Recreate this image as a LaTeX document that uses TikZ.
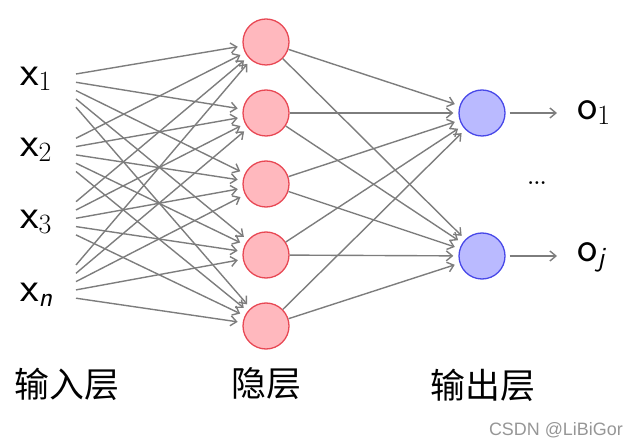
\documentclass[tikz,border=0pt]{standalone}
\usepackage{fontspec}
\newfontfamily\cjk{Noto Sans CJK SC}
\newfontfamily\wmfont{Liberation Sans}
\usetikzlibrary{arrows.meta}
\newcommand{\subup}[1]{\raisebox{-5bp}{\fontsize{28}{30}\selectfont\rmfamily #1}}
\newcommand{\subit}[1]{\raisebox{-5bp}{\fontsize{28}{30}\selectfont\sffamily\itshape #1}}
\definecolor{linegray}{RGB}{125,125,125}
\definecolor{hidfill}{RGB}{255,184,190}
\definecolor{hiddraw}{RGB}{232,72,84}
\definecolor{outfill}{RGB}{186,186,255}
\definecolor{outdraw}{RGB}{72,72,232}
\definecolor{wmgray}{RGB}{150,150,150}
\tikzset{
  conn/.style={draw=linegray, line width=1.4bp, -{Straight Barb[length=6bp,width=10bp]}},
  hidnode/.style={circle, minimum size=46bp, inner sep=0pt, fill=hidfill, draw=hiddraw, line width=1.3bp},
  outnode/.style={circle, minimum size=46bp, inner sep=0pt, fill=outfill, draw=outdraw, line width=1.3bp},
  varlabel/.style={anchor=base west, inner sep=0pt, font=\fontsize{43}{46}\selectfont\sffamily},
  layerlabel/.style={inner sep=0pt, font=\fontsize{35}{38}\selectfont\cjk},
}
\begin{document}
\begin{tikzpicture}[x=1bp, y=-1bp]
\useasboundingbox (0,0) rectangle (640,446);
% input labels
\node[varlabel] (x1) at (20,86) {x\subup{1}};
\node[varlabel] (x2) at (20,157) {x\subup{2}};
\node[varlabel] (x3) at (20,229) {x\subup{3}};
\node[varlabel] (xn) at (20,302) {x\subit{n}};
% hidden nodes
\foreach \j/\y in {1/42,2/113,3/184,4/255,5/326}
  \node[hidnode] (h\j) at (266,\y) {};
% output nodes
\node[outnode] (o1) at (482,113) {};
\node[outnode] (o2) at (482,256) {};
% start coordinates of input connectors
\foreach \i/\b in {1/74,2/138.3,3/201.7,4/265}
  \foreach \j in {1,...,5}
    \coordinate (s\i\j) at (76,{\b+8.3*(\j-1)});
% input -> hidden
\foreach \i in {1,...,4}
  \foreach \j in {1,...,5}
    \draw[conn, shorten >=5bp] (s\i\j) -- (h\j);
% hidden -> output
\foreach \j in {1,...,5}{
  \draw[conn, shorten >=5bp] (h\j) -- (o1);
  \draw[conn, shorten >=5bp] (h\j) -- (o2);
}
% output arrows
\coordinate (e1) at (557,113);
\coordinate (e2) at (557,256);
\draw[conn, shorten <=4bp] (o1) -- (e1);
\draw[conn, shorten <=4bp] (o2) -- (e2);
\node[varlabel] (y1) at (577,120) {o\subup{1}};
\node[varlabel] (y2) at (577,262) {o\subit{j}};
\node[inner sep=0pt, font=\fontsize{20}{22}\selectfont] (dots) at (537,183) {\textbf{...}};
% layer labels
\node[layerlabel] (l1) at (67,384) {输入层};
\node[layerlabel] (l2) at (266,384) {隐层};
\node[layerlabel] (l3) at (483,385) {输出层};
% watermark
\node[anchor=east, inner sep=0pt, text=wmgray, font=\fontsize{18}{20}\selectfont\wmfont] (wm) at (623,430) {CSDN @LiBiGor};
\end{tikzpicture}
\end{document}
